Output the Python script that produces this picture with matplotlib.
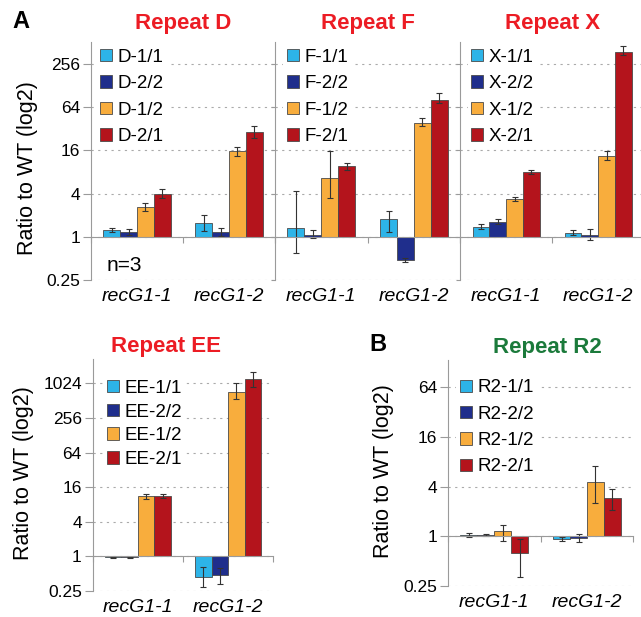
import numpy as np
import matplotlib.pyplot as plt
from matplotlib.ticker import FuncFormatter, NullLocator

plt.rcParams['font.family'] = ['Liberation Sans', 'DejaVu Sans']

groups = ['recG1-1', 'recG1-2']
suffixes = ['-1/1', '-2/2', '-1/2', '-2/1']
colors = ['#2db4e8', '#1f2e8c', '#f8ad3d', '#b4141c']

# ratio to WT, one row per series (1/1, 2/2, 1/2, 2/1), columns = groups
d_vals = [[1.25, 1.57], [1.17, 1.17], [2.6, 15.5], [4.0, 28.6]]
d_lo = [[1.17, 1.2], [1.05, 1.02], [2.25, 13.5], [3.5, 23.5]]
d_hi = [[1.34, 2.0], [1.3, 1.34], [2.95, 18.0], [4.6, 35.0]]

f_vals = [[1.34, 1.79], [1.07, 0.48], [6.5, 38.0], [9.6, 80.0]]
f_lo = [[0.6, 1.17], [0.97, 0.45], [3.5, 35.0], [8.4, 73.0]]
f_hi = [[4.3, 2.3], [1.25, 0.51], [15.5, 45.0], [10.5, 100.0]]

x_vals = [[1.38, 1.14], [1.62, 1.07], [3.4, 13.2], [7.9, 377.0]]
x_lo = [[1.3, 1.07], [1.5, 0.9], [3.1, 11.6], [7.5, 342.0]]
x_hi = [[1.5, 1.25], [1.78, 1.3], [3.6, 15.5], [8.4, 443.0]]

ee_vals = [[0.97, 0.44], [0.97, 0.47], [11.1, 734.0], [11.1, 1200.0]]
ee_lo = [[0.95, 0.29], [0.95, 0.33], [10.0, 541.0], [10.2, 884.0]]
ee_hi = [[0.99, 0.65], [0.99, 0.63], [12.3, 1020.0], [12.2, 1630.0]]

r2_vals = [[1.05, 0.92], [1.05, 0.96], [1.17, 4.6], [0.63, 2.9]]
r2_lo = [[0.98, 0.87], [1.0, 0.85], [0.89, 2.5], [0.32, 2.1]]
r2_hi = [[1.1, 0.97], [1.08, 1.06], [1.39, 7.2], [0.94, 3.7]]

top_ticks = [0.25, 1, 4, 16, 64, 256]
ee_ticks = [0.25, 1, 4, 16, 64, 256, 1024]
r2_ticks = [0.25, 1, 4, 16, 64]

grey = '#9a9a9a'


def panel(ax, prefix, vals, lo, hi, ylim, yticks, legpos, labels=True, ls=0.5):
    x = np.arange(len(groups))
    w = 0.183
    for i in range(4):
        xs = x + (i - 1.5) * w
        v = np.array(vals[i])
        ax.bar(xs, v - 1, bottom=1, width=w, color=colors[i], edgecolor='#4a4a4a',
               linewidth=0.6, label=prefix + suffixes[i], zorder=3)
        ax.errorbar(xs, v, yerr=[v - np.array(lo[i]), np.array(hi[i]) - v], fmt='none',
                    ecolor='#333333', elinewidth=0.8, capsize=2.5, capthick=0.8, zorder=4)
    ax.set_yscale('log', base=2)
    ax.set_ylim(*ylim)
    ax.set_xlim(-0.5, 1.5)
    ax.set_yticks(yticks)
    ax.yaxis.set_major_formatter(FuncFormatter(lambda v, _: f'{v:g}'))
    ax.yaxis.set_minor_locator(NullLocator())
    ax.grid(axis='y', linestyle=(0, (2, 4)), color='#aaaaaa', linewidth=0.8)
    ax.set_axisbelow(True)
    ax.spines['top'].set_visible(False)
    ax.spines['right'].set_visible(False)
    ax.spines['bottom'].set_position(('data', 1))
    ax.spines['bottom'].set_color(grey)
    ax.spines['left'].set_color(grey)
    ax.spines['bottom'].set_zorder(5)
    ax.set_xticks([-0.5, 0.5, 1.5], ['', '', ''])
    ax.tick_params(axis='x', length=4, color=grey)
    if labels:
        ax.tick_params(axis='y', length=6, color=grey, labelsize=12.5, pad=2)
    else:
        ax.tick_params(axis='y', length=3, color=grey, labelleft=False)
    sec = ax.secondary_xaxis(0)
    sec.set_xticks([0, 1], groups, style='italic', fontsize=14)
    sec.tick_params(length=0, pad=6)
    sec.spines['bottom'].set_visible(False)
    ax.legend(loc='upper left', bbox_to_anchor=legpos, frameon=True,
              facecolor='white', edgecolor='none', framealpha=1, fontsize=13.5,
              handlelength=0.64, handleheight=0.64, handletextpad=0.3,
              labelspacing=ls, borderpad=0.2, borderaxespad=0)


fig = plt.figure(figsize=(6.41, 6.17), dpi=100)

ax_d = fig.add_axes([0.142, 0.546, 0.287, 0.386])
ax_f = fig.add_axes([0.429, 0.546, 0.289, 0.386])
ax_x = fig.add_axes([0.718, 0.546, 0.287, 0.386])
ax_ee = fig.add_axes([0.145, 0.042, 0.281, 0.376])
ax_r2 = fig.add_axes([0.699, 0.050, 0.289, 0.367])

panel(ax_d, 'D', d_vals, d_lo, d_hi, (0.25, 512), top_ticks, (0.029, 0.987))
panel(ax_f, 'F', f_vals, f_lo, f_hi, (0.25, 512), top_ticks, (0.045, 0.987), labels=False)
panel(ax_x, 'X', x_vals, x_lo, x_hi, (0.25, 512), top_ticks, (0.04, 0.987), labels=False)
panel(ax_ee, 'EE', ee_vals, ee_lo, ee_hi, (0.25, 2 ** 11.4), ee_ticks, (0.057, 0.927), ls=0.36)
panel(ax_r2, 'R2', r2_vals, r2_lo, r2_hi, (0.25, 2 ** 7.1), r2_ticks, (0.045, 0.93), ls=0.5)

red = '#ec1c24'
ax_d.set_title('Repeat D', color=red, fontweight='bold', fontsize=16, pad=9)
ax_f.set_title('Repeat F', color=red, fontweight='bold', fontsize=16, pad=9)
ax_x.set_title('Repeat X', color=red, fontweight='bold', fontsize=16, pad=9)
ax_ee.set_title('Repeat EE', color=red, fontweight='bold', fontsize=16, pad=5, x=0.405)
ax_r2.set_title('Repeat R2', color='#1b7a3b', fontweight='bold', fontsize=16, pad=5, x=0.535)

for ax, cx, cy in [(ax_d, -0.29, 0.47), (ax_ee, -0.33, 0.51), (ax_r2, -0.29, 0.51)]:
    ax.set_ylabel('Ratio to WT (log2)', fontsize=15.5)
    ax.yaxis.set_label_coords(cx, cy)

ax_d.text(0.085, 0.06, 'n=3', transform=ax_d.transAxes, fontsize=15, va='center')

fig.text(0.02, 0.965, 'A', fontsize=17, fontweight='bold', va='center')
fig.text(0.577, 0.442, 'B', fontsize=17, fontweight='bold', va='center')

plt.savefig('out.png', dpi=100)
